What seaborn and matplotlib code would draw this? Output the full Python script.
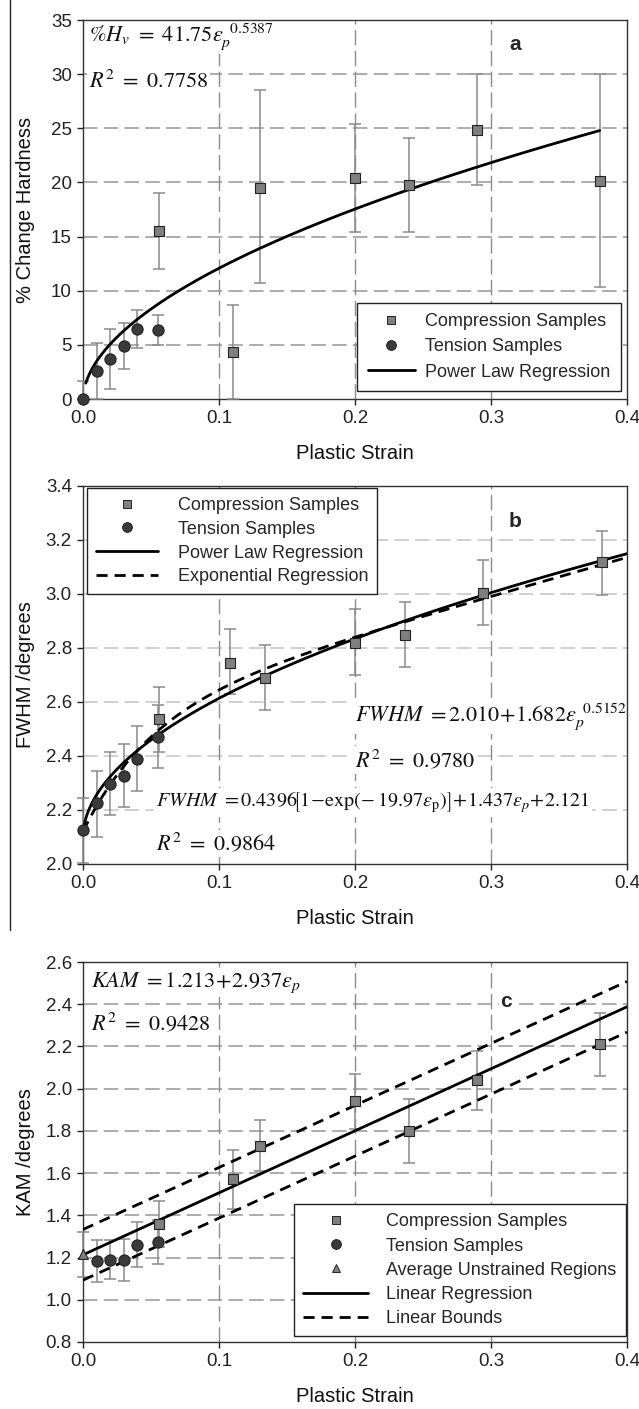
import matplotlib
matplotlib.use("Agg")
import matplotlib.pyplot as plt
from matplotlib.lines import Line2D
import seaborn as sns
import numpy as np
import pandas as pd

# ---- panel a: % change hardness ----
a_comp_x = [0.056, 0.11, 0.13, 0.20, 0.24, 0.29, 0.38]
a_comp_y = [15.5, 4.3, 19.5, 20.4, 19.8, 24.8, 20.1]
a_comp_lo = [12.0, 0.0, 10.7, 15.4, 15.4, 19.8, 10.3]
a_comp_hi = [19.0, 8.7, 28.5, 25.4, 24.1, 30.0, 30.0]
a_ten_x = [0.0, 0.01, 0.02, 0.03, 0.04, 0.055]
a_ten_y = [0.0, 2.6, 3.7, 4.9, 6.5, 6.4]
a_ten_lo = [0.0, 0.0, 0.9, 2.8, 4.7, 5.0]
a_ten_hi = [1.7, 5.2, 6.5, 7.0, 8.2, 7.8]
a_fit = (41.75, 0.5387)

# ---- panel b: FWHM ----
b_comp_x = [0.056, 0.108, 0.134, 0.20, 0.237, 0.294, 0.382]
b_comp_y = [2.538, 2.745, 2.69, 2.82, 2.848, 3.005, 3.117]
b_comp_lo = [2.415, 2.63, 2.57, 2.70, 2.73, 2.885, 2.995]
b_comp_hi = [2.655, 2.87, 2.81, 2.945, 2.97, 3.125, 3.235]
b_ten_x = [0.0, 0.01, 0.02, 0.03, 0.04, 0.055]
b_ten_y = [2.125, 2.225, 2.295, 2.327, 2.39, 2.47]
b_ten_lo = [2.005, 2.10, 2.18, 2.21, 2.27, 2.355]
b_ten_hi = [2.245, 2.345, 2.415, 2.445, 2.51, 2.59]
b_pow = (2.10, 1.682, 0.5152)          # curve as drawn
b_exp = (0.4396, 19.97, 1.437, 2.121)

# ---- panel c: KAM ----
c_comp_x = [0.056, 0.11, 0.13, 0.20, 0.24, 0.29, 0.38]
c_comp_y = [1.36, 1.57, 1.73, 1.94, 1.80, 2.04, 2.21]
c_comp_lo = [1.25, 1.43, 1.61, 1.81, 1.65, 1.90, 2.06]
c_comp_hi = [1.47, 1.71, 1.85, 2.07, 1.95, 2.18, 2.36]
c_ten_x = [0.01, 0.02, 0.03, 0.04, 0.055]
c_ten_y = [1.185, 1.19, 1.19, 1.26, 1.275]
c_ten_lo = [1.085, 1.10, 1.09, 1.155, 1.17]
c_ten_hi = [1.285, 1.285, 1.29, 1.37, 1.38]
c_uns_x = [0.0]
c_uns_y = [1.215]
c_uns_lo = [1.11]
c_uns_hi = [1.32]
c_lin = (1.213, 2.937)
c_bound = 0.12

sns.set_theme(style="ticks")
plt.rcParams['font.family'] = ['Liberation Sans', 'DejaVu Sans']
plt.rcParams['mathtext.fontset'] = 'stix'

COMP = '#7f7f7f'
TEN = '#3a3a3a'
ERR = '#8a8a8a'
DASH = (0, (4, 2.5))

fig = plt.figure(figsize=(6.39, 14.09), dpi=100)
axA = fig.add_axes([0.130, 0.7168, 0.851, 0.2690])
axB = fig.add_axes([0.130, 0.3868, 0.851, 0.2683])
axC = fig.add_axes([0.130, 0.0476, 0.851, 0.2696])

fig.add_artist(Line2D([10 / 639, 10 / 639], [1.0, 1 - 930 / 1409],
                      transform=fig.transFigure, color='#222222', lw=1))


def style_axis(ax, ylim, yticks, ylabel, hgrid_color):
    ax.set_xlim(0, 0.4)
    ax.set_ylim(*ylim)
    ax.set_xticks([0.0, 0.1, 0.2, 0.3, 0.4])
    ax.set_xticklabels(['0.0', '0.1', '0.2', '0.3', '0.4'])
    ax.set_yticks(yticks)
    for s in ax.spines.values():
        s.set_color('#333333')
        s.set_linewidth(1.0)
        s.set_visible(True)
    ax.tick_params(axis='both', labelsize=13.5, colors='#222222', length=4,
                   width=1, direction='out', pad=4)
    for y in yticks[1:-1]:
        ax.axhline(y, color=hgrid_color, lw=1.3, ls=(0, (8, 3.5)), zorder=1)
    for x in [0.1, 0.2, 0.3]:
        ax.axvline(x, color='#8c8c8c', lw=1.0, ls=(0, (11, 4)), zorder=1)
    ax.set_xlabel('Plastic Strain', fontsize=14.5, color='#111111')
    ax.set_ylabel(ylabel, fontsize=14.5, color='#111111')
    ax.xaxis.set_label_coords(0.5, -0.118)
    ax.yaxis.set_label_coords(-0.088, 0.5)


def points(ax, x, y, lo, hi, marker, color, size):
    y = np.asarray(y)
    yerr = [y - np.asarray(lo), np.asarray(hi) - y]
    eb = ax.errorbar(x, y, yerr=yerr, fmt='none', ecolor=ERR, elinewidth=1.1,
                     capsize=4, capthick=1.1, zorder=3)
    for art in eb.lines[1] + eb.lines[2]:
        art.set_clip_on(False)
    df = pd.DataFrame({'x': x, 'y': y})
    sns.scatterplot(data=df, x='x', y='y', ax=ax, marker=marker, s=size,
                    color=color, edgecolor='#222222', linewidth=0.8,
                    zorder=4, legend=False, clip_on=False)


def eqtext(ax, x, y, s, size=16):
    ax.text(x, y, s, fontsize=size, va='center', ha='left', color='#111111',
            zorder=2.5, bbox=dict(facecolor='white', edgecolor='none', pad=1.5))


def handles_for(entries):
    handles = []
    for kind, color in entries:
        if kind == '-':
            handles.append(Line2D([], [], color='black', lw=2))
        elif kind == '--':
            handles.append(Line2D([], [], color='black', lw=2, ls=DASH))
        else:
            handles.append(Line2D([], [], ls='none', marker=kind, color=color,
                                  markeredgecolor='#222222', markeredgewidth=0.7,
                                  markersize=6 if kind != 'o' else 7))
    return handles


def legend(ax, entries, labels, **kw):
    leg = ax.legend(handles_for(entries), labels, fontsize=13, frameon=True,
                    fancybox=False, edgecolor='#222222', framealpha=1,
                    borderaxespad=0, **kw)
    leg.get_frame().set_linewidth(1.0)
    leg.set_zorder(5)
    return leg


# ---------------- panel a ----------------
style_axis(axA, (0, 35), [0, 5, 10, 15, 20, 25, 30, 35], '% Change Hardness', '#a6a6a6')
xa = np.linspace(0.002, 0.38, 300)
sns.lineplot(x=xa, y=a_fit[0] * xa ** a_fit[1], ax=axA, color='black', lw=2, zorder=3.5)
points(axA, a_comp_x, a_comp_y, a_comp_lo, a_comp_hi, 's', COMP, 45)
points(axA, a_ten_x, a_ten_y, a_ten_lo, a_ten_hi, 'o', TEN, 65)
eqtext(axA, 0.004, 33.5, r'$\%H_v\ =\ 41.75\varepsilon_p^{\;\;0.5387}$')
eqtext(axA, 0.004, 29.3, r'$R^2\ =\ 0.7758$')
axA.text(0.3175, 32.7, 'a', fontsize=15, fontweight='bold', ha='center',
         va='center', zorder=2.5)
legend(axA, [('s', COMP), ('o', TEN), ('-', None)],
       ['Compression Samples', 'Tension Samples', 'Power Law Regression'],
       loc='lower right', bbox_to_anchor=(0.99, 0.02),
       handlelength=2.6, handletextpad=0.6, labelspacing=0.45, borderpad=0.6)

# ---------------- panel b ----------------
style_axis(axB, (2.0, 3.4), [2.0, 2.2, 2.4, 2.6, 2.8, 3.0, 3.2, 3.4], 'FWHM /degrees', '#cdcdcd')
xb = np.linspace(0.0005, 0.4, 400)
sns.lineplot(x=xb, y=b_pow[0] + b_pow[1] * xb ** b_pow[2], ax=axB, color='black',
             lw=2, zorder=3.5)
xe = np.linspace(0.0, 0.4, 400)
sns.lineplot(x=xe, y=b_exp[0] * (1 - np.exp(-b_exp[1] * xe)) + b_exp[2] * xe + b_exp[3],
             ax=axB, color='black', lw=2, ls=DASH, zorder=3.5)
points(axB, b_comp_x, b_comp_y, b_comp_lo, b_comp_hi, 's', COMP, 45)
points(axB, b_ten_x, b_ten_y, b_ten_lo, b_ten_hi, 'o', TEN, 65)
eqtext(axB, 0.2, 2.545, r'$FWHM\ =2.010\!+\!1.682\varepsilon_p^{\;\;0.5152}$')
eqtext(axB, 0.2, 2.385, r'$R^2\ =\ 0.9780$')
eqtext(axB, 0.054, 2.228,
       r'$FWHM\ =0.4396\!\left[1\!-\!\exp\!\left(\!-19.97\varepsilon_{\rm p}\right)\right]\!+\!1.437\varepsilon_p\!+\!2.121$',
       size=14.5)
eqtext(axB, 0.054, 2.075, r'$R^2\ =\ 0.9864$')
axB.text(0.318, 3.27, 'b', fontsize=15, fontweight='bold', ha='center',
         va='center', zorder=2.5)
legend(axB, [('s', COMP), ('o', TEN), ('-', None), ('--', None)],
       ['Compression Samples', 'Tension Samples', 'Power Law Regression',
        'Exponential Regression'],
       loc='upper left', bbox_to_anchor=(0.008, 0.995),
       handlelength=3.4, handletextpad=1.1, labelspacing=0.38, borderpad=0.5)

# ---------------- panel c ----------------
style_axis(axC, (0.8, 2.6), [0.8, 1.0, 1.2, 1.4, 1.6, 1.8, 2.0, 2.2, 2.4, 2.6], 'KAM /degrees', '#a6a6a6')
xc = np.linspace(0.0, 0.4, 50)
sns.lineplot(x=xc, y=c_lin[0] + c_lin[1] * xc, ax=axC, color='black', lw=2, zorder=3.5)
sns.lineplot(x=xc, y=c_lin[0] + c_bound + c_lin[1] * xc, ax=axC, color='black', lw=2,
             ls=DASH, zorder=3.5)
sns.lineplot(x=xc, y=c_lin[0] - c_bound + c_lin[1] * xc, ax=axC, color='black', lw=2,
             ls=DASH, zorder=3.5)
points(axC, c_comp_x, c_comp_y, c_comp_lo, c_comp_hi, 's', COMP, 45)
points(axC, c_ten_x, c_ten_y, c_ten_lo, c_ten_hi, 'o', TEN, 65)
points(axC, c_uns_x, c_uns_y, c_uns_lo, c_uns_hi, '^', COMP, 50)
eqtext(axC, 0.006, 2.50, r'$KAM\ =1.213\!+\!2.937\varepsilon_p$')
eqtext(axC, 0.006, 2.31, r'$R^2\ =\ 0.9428$')
axC.text(0.311, 2.415, 'c', fontsize=15, fontweight='bold', ha='center', va='center',
         zorder=2.5, bbox=dict(facecolor='white', edgecolor='none', pad=1))
legend(axC, [('s', COMP), ('o', TEN), ('^', COMP), ('-', None), ('--', None)],
       ['Compression Samples', 'Tension Samples', 'Average Unstrained Regions',
        'Linear Regression', 'Linear Bounds'],
       loc='lower right', bbox_to_anchor=(0.998, 0.015),
       handlelength=3.6, handletextpad=1.0, labelspacing=0.4, borderpad=0.5)

fig.savefig('out.png', dpi=100)
